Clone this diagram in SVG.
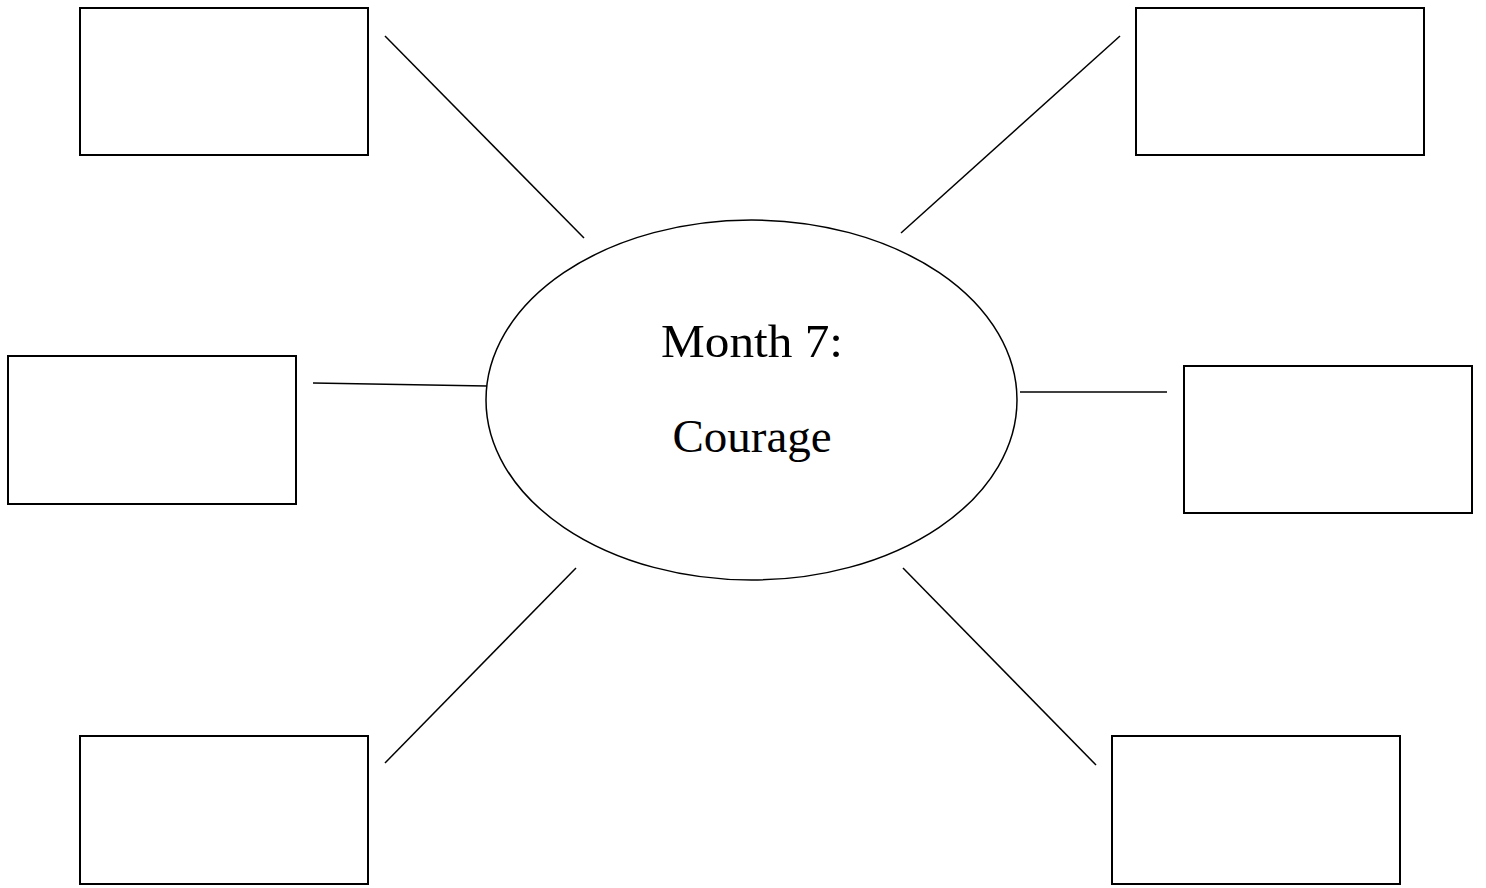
<svg xmlns="http://www.w3.org/2000/svg" width="1486" height="888" viewBox="0 0 1486 888">
<style>
.box{fill:#fff;stroke:#000;stroke-width:2}
.ln{stroke:#000;stroke-width:1.5;fill:none}
.t{font-family:"Liberation Serif",serif;font-size:47px;fill:#000;text-anchor:middle}
</style>
<rect width="1486" height="888" fill="#fff"/>
<g id="connectors">
<line class="ln" x1="385" y1="36" x2="584" y2="238"/>
<line class="ln" x1="1120" y1="36" x2="901" y2="233"/>
<line class="ln" x1="313" y1="383" x2="487" y2="386"/>
<line class="ln" x1="1020" y1="392" x2="1167" y2="392"/>
<line class="ln" x1="576" y1="568" x2="385" y2="763"/>
<line class="ln" x1="903" y1="568" x2="1096" y2="765"/>
</g>
<g id="center">
<ellipse cx="751.5" cy="400" rx="265.5" ry="180" fill="#fff" stroke="#000" stroke-width="1.5"/>
<text class="t" x="752" y="357" textLength="182" lengthAdjust="spacingAndGlyphs">Month 7:</text>
<text class="t" x="752" y="452">Courage</text>
</g>
<g id="box-tl"><rect class="box" x="80" y="8" width="288" height="147"/></g>
<g id="box-tr"><rect class="box" x="1136" y="8" width="288" height="147"/></g>
<g id="box-ml"><rect class="box" x="8" y="356" width="288" height="148"/></g>
<g id="box-mr"><rect class="box" x="1184" y="366" width="288" height="147"/></g>
<g id="box-bl"><rect class="box" x="80" y="736" width="288" height="148"/></g>
<g id="box-br"><rect class="box" x="1112" y="736" width="288" height="148"/></g>
</svg>
